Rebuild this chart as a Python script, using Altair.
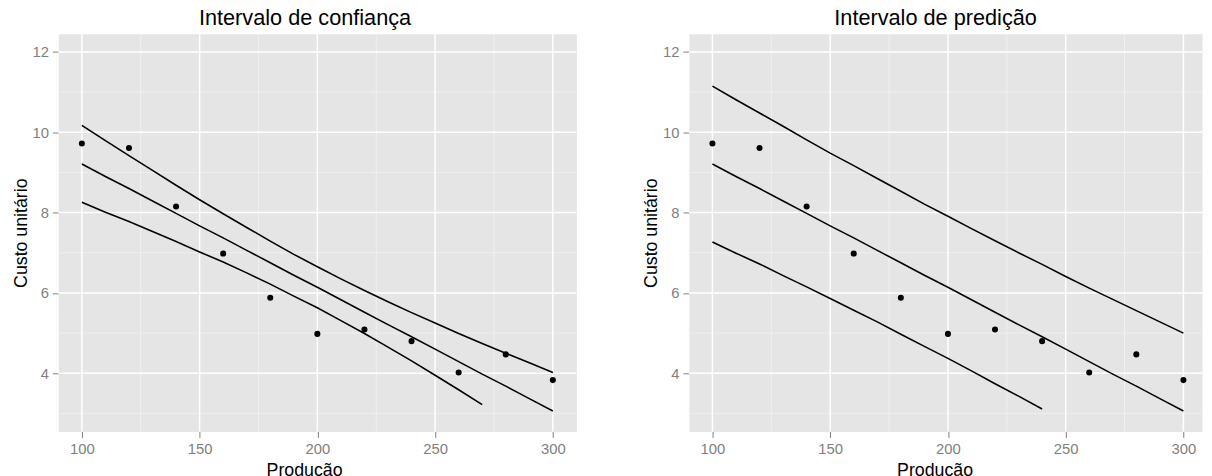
import altair as alt
import pandas as pd

# ---- data ----
producao = [100, 120, 140, 160, 180, 200, 220, 240, 260, 280, 300]
custo = [9.72, 9.61, 8.15, 6.98, 5.88, 4.98, 5.09, 4.80, 4.02, 4.47, 3.83]

grade_x = [100, 110, 120, 130, 140, 150, 160, 170, 180, 190, 200,
           210, 220, 230, 240, 250, 260, 270, 280, 290, 300]
ajuste = [9.21, 8.90, 8.60, 8.29, 7.98, 7.67, 7.37, 7.06, 6.75, 6.44, 6.14,
          5.83, 5.52, 5.21, 4.91, 4.60, 4.29, 3.98, 3.68, 3.37, 3.06]
ic_sup = [10.17, 9.79, 9.42, 9.05, 8.68, 8.32, 7.97, 7.63, 7.29, 6.96, 6.65,
          6.35, 6.06, 5.78, 5.51, 5.25, 4.99, 4.74, 4.50, 4.26, 4.02]
ic_inf = [8.26, 8.01, 7.78, 7.53, 7.28, 7.02, 6.77, 6.50, 6.22, 5.92, 5.63,
          5.31, 4.99, 4.65, 4.31, 3.95, 3.59, 3.22]
ip_sup = [11.15, 10.81, 10.48, 10.15, 9.81, 9.48, 9.17, 8.85, 8.53, 8.21, 7.91,
          7.60, 7.30, 7.00, 6.71, 6.41, 6.12, 5.84, 5.56, 5.28, 5.00]
ip_inf = [7.27, 6.99, 6.72, 6.43, 6.15, 5.86, 5.57, 5.28, 4.97, 4.67, 4.37,
          4.06, 3.74, 3.43, 3.11]

x_major = [100, 150, 200, 250, 300]
x_minor = [125, 175, 225, 275]
y_major = [4, 6, 8, 10, 12]
y_minor = [3, 5, 7, 9, 11]

FONT = "Liberation Sans"
GREY = "#7f7f7f"


def lines_df(sup, inf):
    rows = []
    for x, y in zip(grade_x, ajuste):
        rows.append({"x": x, "y": y, "serie": "ajuste"})
    for x, y in zip(grade_x, sup):
        rows.append({"x": x, "y": y, "serie": "superior"})
    for x, y in zip(grade_x, inf):
        rows.append({"x": x, "y": y, "serie": "inferior"})
    return pd.DataFrame(rows)


pts = pd.DataFrame({"x": producao, "y": custo})


def panel(title, sup, inf, xmax, width):
    xs = alt.Scale(domain=[90, xmax], nice=False, zero=False)
    ys = alt.Scale(domain=[2.55, 12.45], nice=False, zero=False)
    common = dict(grid=False, domain=False, tickSize=6, tickColor=GREY, tickWidth=1,
                  labelPadding=4, labelFontSize=15, labelColor=GREY, labelFont=FONT,
                  titleFontSize=18, titleFontWeight="normal", titleColor="black",
                  titleFont=FONT)
    xaxis = alt.Axis(values=x_major, title="Produção", titlePadding=6, titleX=249, **common)
    yaxis = alt.Axis(values=y_major, title="Custo unitário", titlePadding=2, **common)

    vminor = alt.Chart(pd.DataFrame({"x": x_minor})).mark_rule(
        color="#f2f2f2", strokeWidth=0.8).encode(x=alt.X("x:Q", scale=xs, axis=xaxis))
    hminor = alt.Chart(pd.DataFrame({"y": y_minor})).mark_rule(
        color="#f2f2f2", strokeWidth=0.8).encode(y=alt.Y("y:Q", scale=ys, axis=yaxis))
    vmajor = alt.Chart(pd.DataFrame({"x": x_major})).mark_rule(
        color="white", strokeWidth=1.5).encode(x=alt.X("x:Q", scale=xs, axis=xaxis))
    hmajor = alt.Chart(pd.DataFrame({"y": y_major})).mark_rule(
        color="white", strokeWidth=1.5).encode(y=alt.Y("y:Q", scale=ys, axis=yaxis))

    lines = alt.Chart(lines_df(sup, inf)).mark_line(color="black", strokeWidth=1.6).encode(
        x=alt.X("x:Q", scale=xs, axis=xaxis),
        y=alt.Y("y:Q", scale=ys, axis=yaxis),
        detail="serie:N",
    )
    points = alt.Chart(pts).mark_circle(color="black", size=38, opacity=1).encode(
        x=alt.X("x:Q", scale=xs, axis=xaxis),
        y=alt.Y("y:Q", scale=ys, axis=yaxis),
    )
    return alt.layer(vminor, hminor, vmajor, hmajor, lines, points).properties(
        width=width, height=403,
        title=alt.Title(title, anchor="start", align="center", dx=250, frame="group",
                        fontSize=22, font=FONT, fontWeight="normal", color="black",
                        baseline="alphabetic", offset=-14),
    )


left = panel("Intervalo de confiança", ic_sup, ic_inf, 310, 525)
right = panel("Intervalo de predição", ip_sup, ip_inf, 307.9, 520)

chart = alt.hconcat(left, right, spacing=64).properties(
    padding={"left": 3, "top": -5, "right": 0, "bottom": 0},
    background="white",
).configure_view(fill="#e5e5e5", stroke="transparent")

chart.save("out.html", embed_options={"renderer": "svg", "actions": False})
